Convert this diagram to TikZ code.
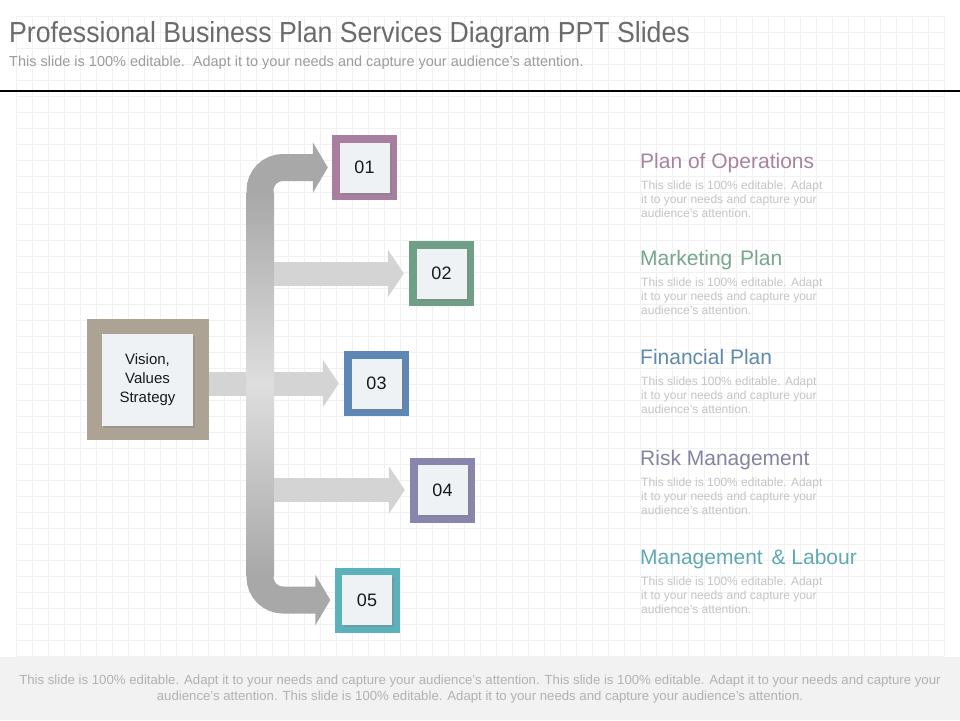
\documentclass[tikz,border=0pt]{standalone}
\usepackage{fontspec}
\setmainfont{Liberation Sans}
\newfontfamily\titlefont[FakeStretch=0.92]{Liberation Sans}
\usetikzlibrary{positioning, arrows.meta, shadows}

\definecolor{frameVision}{HTML}{ADA394}
\definecolor{frameOne}{HTML}{A87F9F}
\definecolor{frameTwo}{HTML}{6F9F86}
\definecolor{frameThree}{HTML}{5D88B5}
\definecolor{frameFour}{HTML}{8886AD}
\definecolor{frameFive}{HTML}{5CB2BA}
\definecolor{coreFill}{HTML}{EEF2F5}
\definecolor{headOne}{HTML}{A8839F}
\definecolor{headTwo}{HTML}{76A68B}
\definecolor{headThree}{HTML}{5F8AAA}
\definecolor{headFour}{HTML}{8484A2}
\definecolor{headFive}{HTML}{5FA9B2}
\definecolor{blurbGray}{HTML}{C4C4C4}
\definecolor{titleGray}{HTML}{6B6B6B}
\definecolor{subGray}{HTML}{9C9C9C}
\definecolor{footGray}{HTML}{B2B2B2}
\definecolor{footFill}{HTML}{F2F2F2}
\definecolor{gridGray}{HTML}{F1F1F1}
\definecolor{trunkEnd}{HTML}{A8A8A8}
\definecolor{trunkMid}{HTML}{DEDEDE}
\definecolor{branchGray}{HTML}{D4D4D4}

\begin{document}
\begin{tikzpicture}[
        x=1pt, y=-1pt,
        every node/.style={inner sep=0pt},
        frame/.style={rectangle, fill=#1, minimum size=65pt},
        core/.style={rectangle, fill=coreFill, minimum size=50pt, text=black!90,
            font=\fontsize{18}{20}\selectfont,
            drop shadow={opacity=0.4, shadow xshift=2pt, shadow yshift=-2pt}},
        heading/.style={anchor=base west, text=#1, font=\fontsize{21}{24}\selectfont},
        blurb/.style={anchor=north west, align=left, text=blurbGray, font=\fontsize{12}{14}\selectfont},
        branch/.style={draw=branchGray, line width=24pt, -{Triangle[length=16pt, width=47pt]}, shorten >=5pt},
        bracket/.style={draw=trunkEnd, line width=27pt, rounded corners=23pt,
            {Triangle[length=15pt, width=50pt]}-{Triangle[length=15pt, width=50pt]},
            shorten <=4pt, shorten >=4pt},
    ]
        % Canvas
        \useasboundingbox (0,0) rectangle (960,720);
        \fill[white] (0,0) rectangle (960,720);
        \draw[gridGray, line width=0.8pt, step=16pt] (16,16) grid (944,656);
        \fill[footFill] (0,657) rectangle (960,720);
        \draw[black, line width=1.2pt] (0,91) -- (960,91);

        % Header
        \node[anchor=base west, text=titleGray, font=\titlefont\fontsize{29}{32}\selectfont] (title) at (9,42)
            {Professional Business Plan Services Diagram PPT Slides};
        \node[anchor=base west, text=subGray, font=\fontsize{14.5}{16}\selectfont] (subtitle) at (9,66)
            {This slide is 100\% editable.\ \ Adapt it to your needs and capture your audience's attention.};

        % Footer
        \node[anchor=base, text=footGray, font=\fontsize{13.2}{16}\selectfont] (footA) at (480,684)
            {This slide is 100\% editable. Adapt it to your needs and capture your audience's attention. This slide is 100\% editable. Adapt it to your needs and capture your};
        \node[anchor=base, text=footGray, font=\fontsize{13.2}{16}\selectfont] (footB) at (480,700)
            {audience's attention. This slide is 100\% editable. Adapt it to your needs and capture your audience's attention.};

        % Boxes
        \node[frame=frameVision, minimum width=122pt, minimum height=121pt] (vision) at (148,379.5) {};
        \node[core, minimum width=91pt, minimum height=92pt, align=center,
            font=\fontsize{15}{19}\selectfont] (visioncore) at (147.5,380) {Vision,\\Values\\Strategy};
        \node[frame=frameOne] (n1) at (364.5,167.5) {};
        \node[core] (c1) at (n1) {01};
        \node[frame=frameTwo] (n2) at (441.5,273.5) {};
        \node[core] (c2) at (n2) {02};
        \node[frame=frameThree] (n3) at (376.5,383.5) {};
        \node[core] (c3) at (n3) {03};
        \node[frame=frameFour] (n4) at (442.5,490) {};
        \node[core] (c4) at (n4) {04};
        \node[frame=frameFive] (n5) at (367,600) {};
        \node[core] (c5) at (n5) {05};

        % Text column
        \node[heading=headOne] (h1) at (640,168) {Plan of Operations};
        \node[blurb] (b1) at (641,181) {This slide is 100\% editable. Adapt\\it to your needs and capture your\\audience's attention.};
        \node[heading=headTwo] (h2) at (640,265) {Marketing\hspace{2pt} Plan};
        \node[blurb] (b2) at (641,278) {This slide is 100\% editable. Adapt\\it to your needs and capture your\\audience's attention.};
        \node[heading=headThree] (h3) at (640,364) {Financial Plan};
        \node[blurb] (b3) at (641,377) {This slides 100\% editable. Adapt\\it to your needs and capture your\\audience's attention.};
        \node[heading=headFour] (h4) at (640,465) {Risk Management};
        \node[blurb] (b4) at (641,478) {This slide is 100\% editable. Adapt\\it to your needs and capture your\\audience's attention.};
        \node[heading=headFive] (h5) at (640,564) {Management\hspace{3pt} \& Labour};
        \node[blurb] (b5) at (641,577) {This slide is 100\% editable. Adapt\\it to your needs and capture your\\audience's attention.};

        % Arrows
        \coordinate (spine) at (260,384);
        \draw[bracket] (n1.west) -| (spine) |- (n5.west);
        \draw[branch] (vision.east |- n3.west) -- (n3.west);
        \node[top color=trunkEnd, bottom color=trunkEnd, middle color=trunkMid,
            minimum width=28pt, minimum height=382pt] (trunk) at (spine) {};
        \draw[branch] (trunk.east |- n2.west) -- (n2.west);
        \draw[branch] (trunk.east |- n4.west) -- (n4.west);
    \end{tikzpicture}
\end{document}
